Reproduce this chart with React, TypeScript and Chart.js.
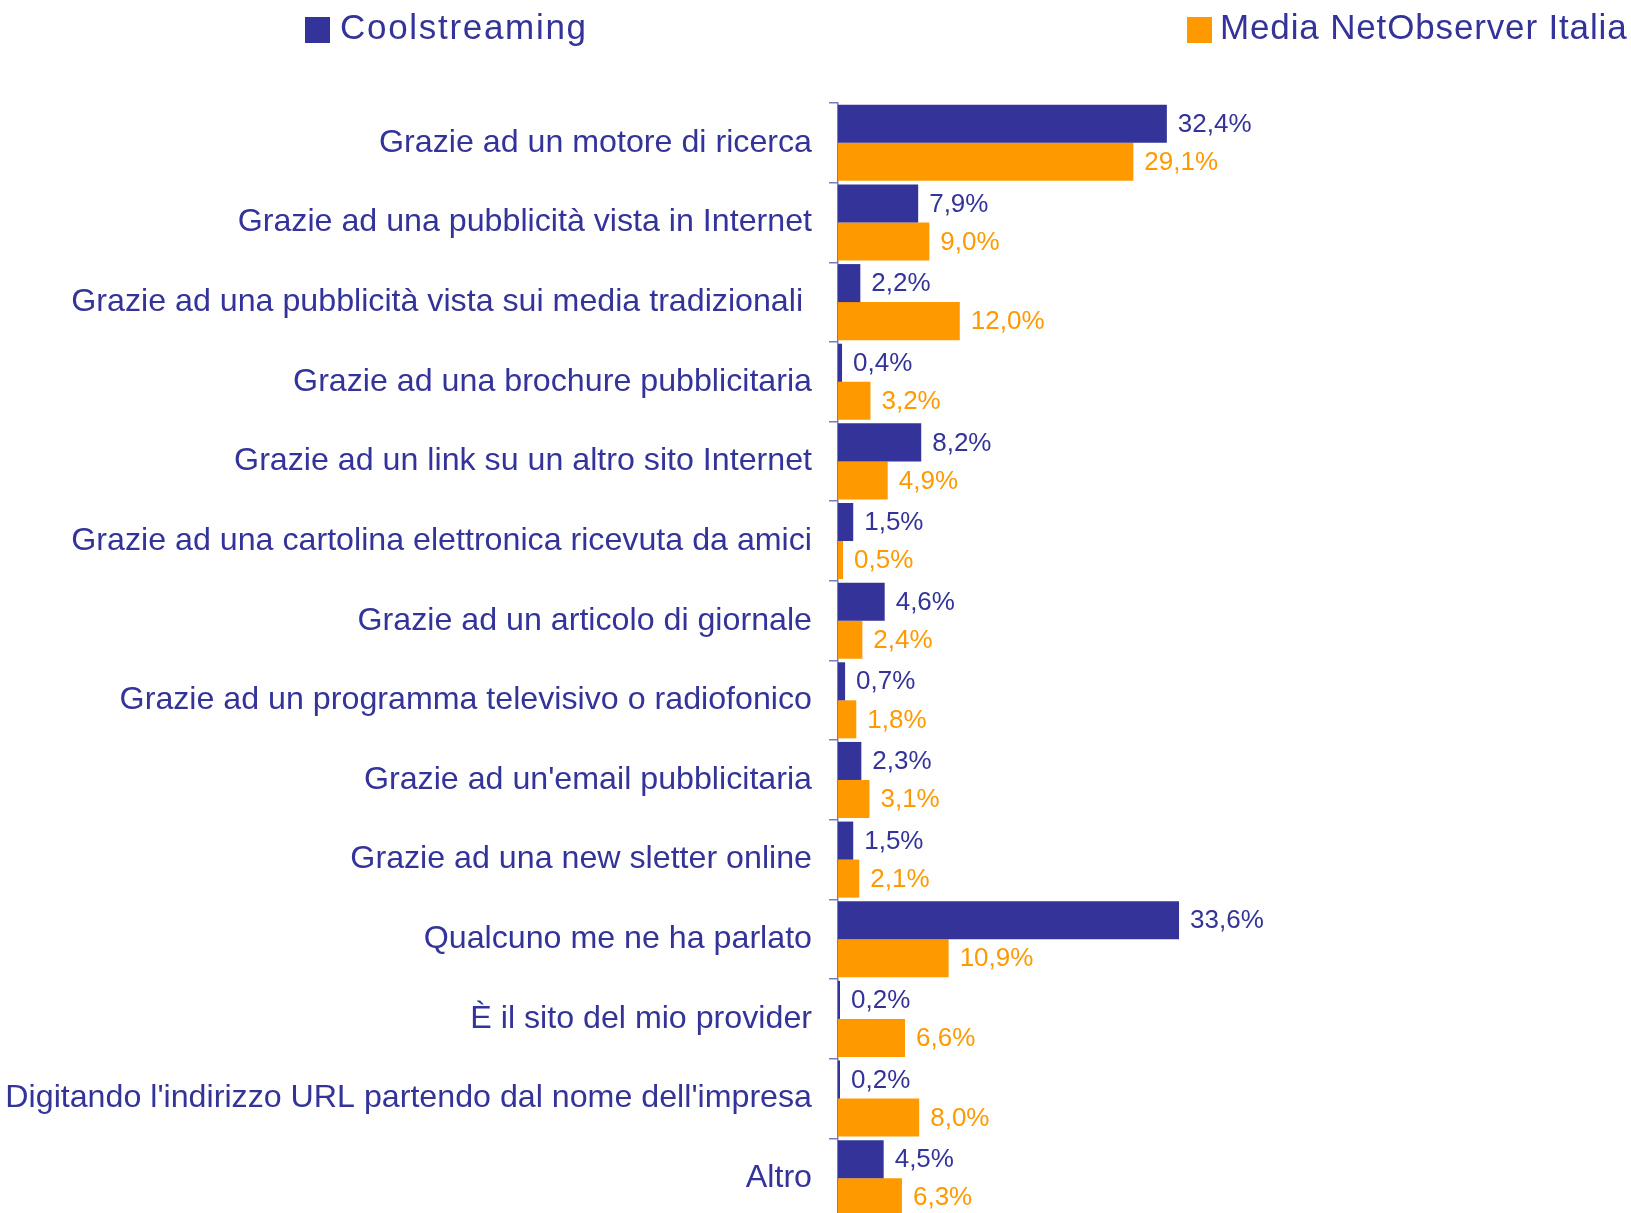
import React, { useEffect, useRef } from 'react';
import { Chart, registerables } from 'chart.js';

Chart.register(...registerables);

const categories = [
  'Grazie ad un motore di ricerca',
  'Grazie ad una pubblicità vista in Internet',
  'Grazie ad una pubblicità vista sui media tradizionali ',
  'Grazie ad una brochure pubblicitaria',
  'Grazie ad un link su un altro sito Internet',
  'Grazie ad una cartolina elettronica ricevuta da amici',
  'Grazie ad un articolo di giornale',
  'Grazie ad un programma televisivo o radiofonico',
  "Grazie ad un'email pubblicitaria",
  'Grazie ad una new sletter online',
  'Qualcuno me ne ha parlato',
  'È il sito del mio provider',
  "Digitando l'indirizzo URL partendo dal nome dell'impresa",
  'Altro',
];

const coolstreaming = [32.4, 7.9, 2.2, 0.4, 8.2, 1.5, 4.6, 0.7, 2.3, 1.5, 33.6, 0.2, 0.2, 4.5];
const netObserver = [29.1, 9.0, 12.0, 3.2, 4.9, 0.5, 2.4, 1.8, 3.1, 2.1, 10.9, 6.6, 8.0, 6.3];

const seriesNames = ['Coolstreaming', 'Media NetObserver Italia'];

const BLUE = '#333399';
const ORANGE = '#FF9900';
const AXIS = '#7b7bbb';
const FONT = '"Liberation Sans", Arial, sans-serif';

export default function App() {
  const ref = useRef<HTMLCanvasElement>(null);

  useEffect(() => {
    document.body.style.margin = '0';
    const canvas = ref.current!;

    const valueLabels = {
      id: 'valueLabels',
      afterDatasetsDraw(chart: any) {
        const ctx = chart.ctx;
        ctx.save();
        ctx.font = `26px ${FONT}`;
        ctx.textAlign = 'left';
        ctx.textBaseline = 'middle';
        chart.data.datasets.forEach((ds: any, di: number) => {
          const meta = chart.getDatasetMeta(di);
          ctx.fillStyle = ds.backgroundColor;
          meta.data.forEach((bar: any, i: number) => {
            const v = ds.data[i] as number;
            const txt = v.toFixed(1).replace('.', ',') + '%';
            ctx.fillText(txt, bar.x + 11, bar.y + 1);
          });
        });
        ctx.restore();
      },
    };

    const customLegend = {
      id: 'customLegend',
      afterDraw(chart: any) {
        const ctx = chart.ctx;
        ctx.save();
        ctx.font = `35px ${FONT}`;
        ctx.textBaseline = 'alphabetic';
        ctx.textAlign = 'left';
        const items = [
          { name: seriesNames[0], color: BLUE, sx: 305, tx: 340, ls: '1.7px' },
          { name: seriesNames[1], color: ORANGE, sx: 1187, tx: 1220, ls: '0.85px' },
        ];
        items.forEach((it) => {
          ctx.fillStyle = it.color;
          ctx.fillRect(it.sx, 17, 25, 26);
          ctx.fillStyle = BLUE;
          (ctx as any).letterSpacing = it.ls;
          ctx.fillText(it.name, it.tx, 38.5);
        });
        (ctx as any).letterSpacing = '0px';
        ctx.restore();
      },
    };

    const chart = new Chart(canvas, {
      type: 'bar',
      data: {
        labels: categories,
        datasets: [
          {
            label: seriesNames[0],
            data: coolstreaming,
            backgroundColor: BLUE,
            borderWidth: 0,
            categoryPercentage: 0.955,
            barPercentage: 1,
          },
          {
            label: seriesNames[1],
            data: netObserver,
            backgroundColor: ORANGE,
            borderWidth: 0,
            categoryPercentage: 0.955,
            barPercentage: 1,
          },
        ],
      },
      options: {
        indexAxis: 'y',
        responsive: false,
        animation: false,
        layout: { padding: { top: 103, right: 184, bottom: 0, left: 0 } },
        plugins: {
          legend: { display: false },
          tooltip: { enabled: false },
        },
        scales: {
          x: { display: false, min: 0, max: 60 },
          y: {
            afterFit(scale: any) {
              scale.width = 838;
              scale.paddingTop = 0;
              scale.paddingBottom = 0;
            },
            grid: {
              offset: true,
              drawOnChartArea: false,
              tickLength: 9,
              color: AXIS,
              tickColor: AXIS,
              lineWidth: 1.5,
            },
            border: { color: AXIS, width: 1.5 },
            ticks: {
              color: BLUE,
              font: { family: FONT, size: 32.2 },
              padding: 17,
              autoSkip: false,
            },
          },
        },
      },
      plugins: [valueLabels, customLegend],
    });

    return () => chart.destroy();
  }, []);

  return (
    <div style={{ width: 1631, height: 1213, overflow: 'hidden' }}>
      <canvas ref={ref} width={1631} height={1218} style={{ display: 'block', width: 1631, height: 1218 }} />
    </div>
  );
}
